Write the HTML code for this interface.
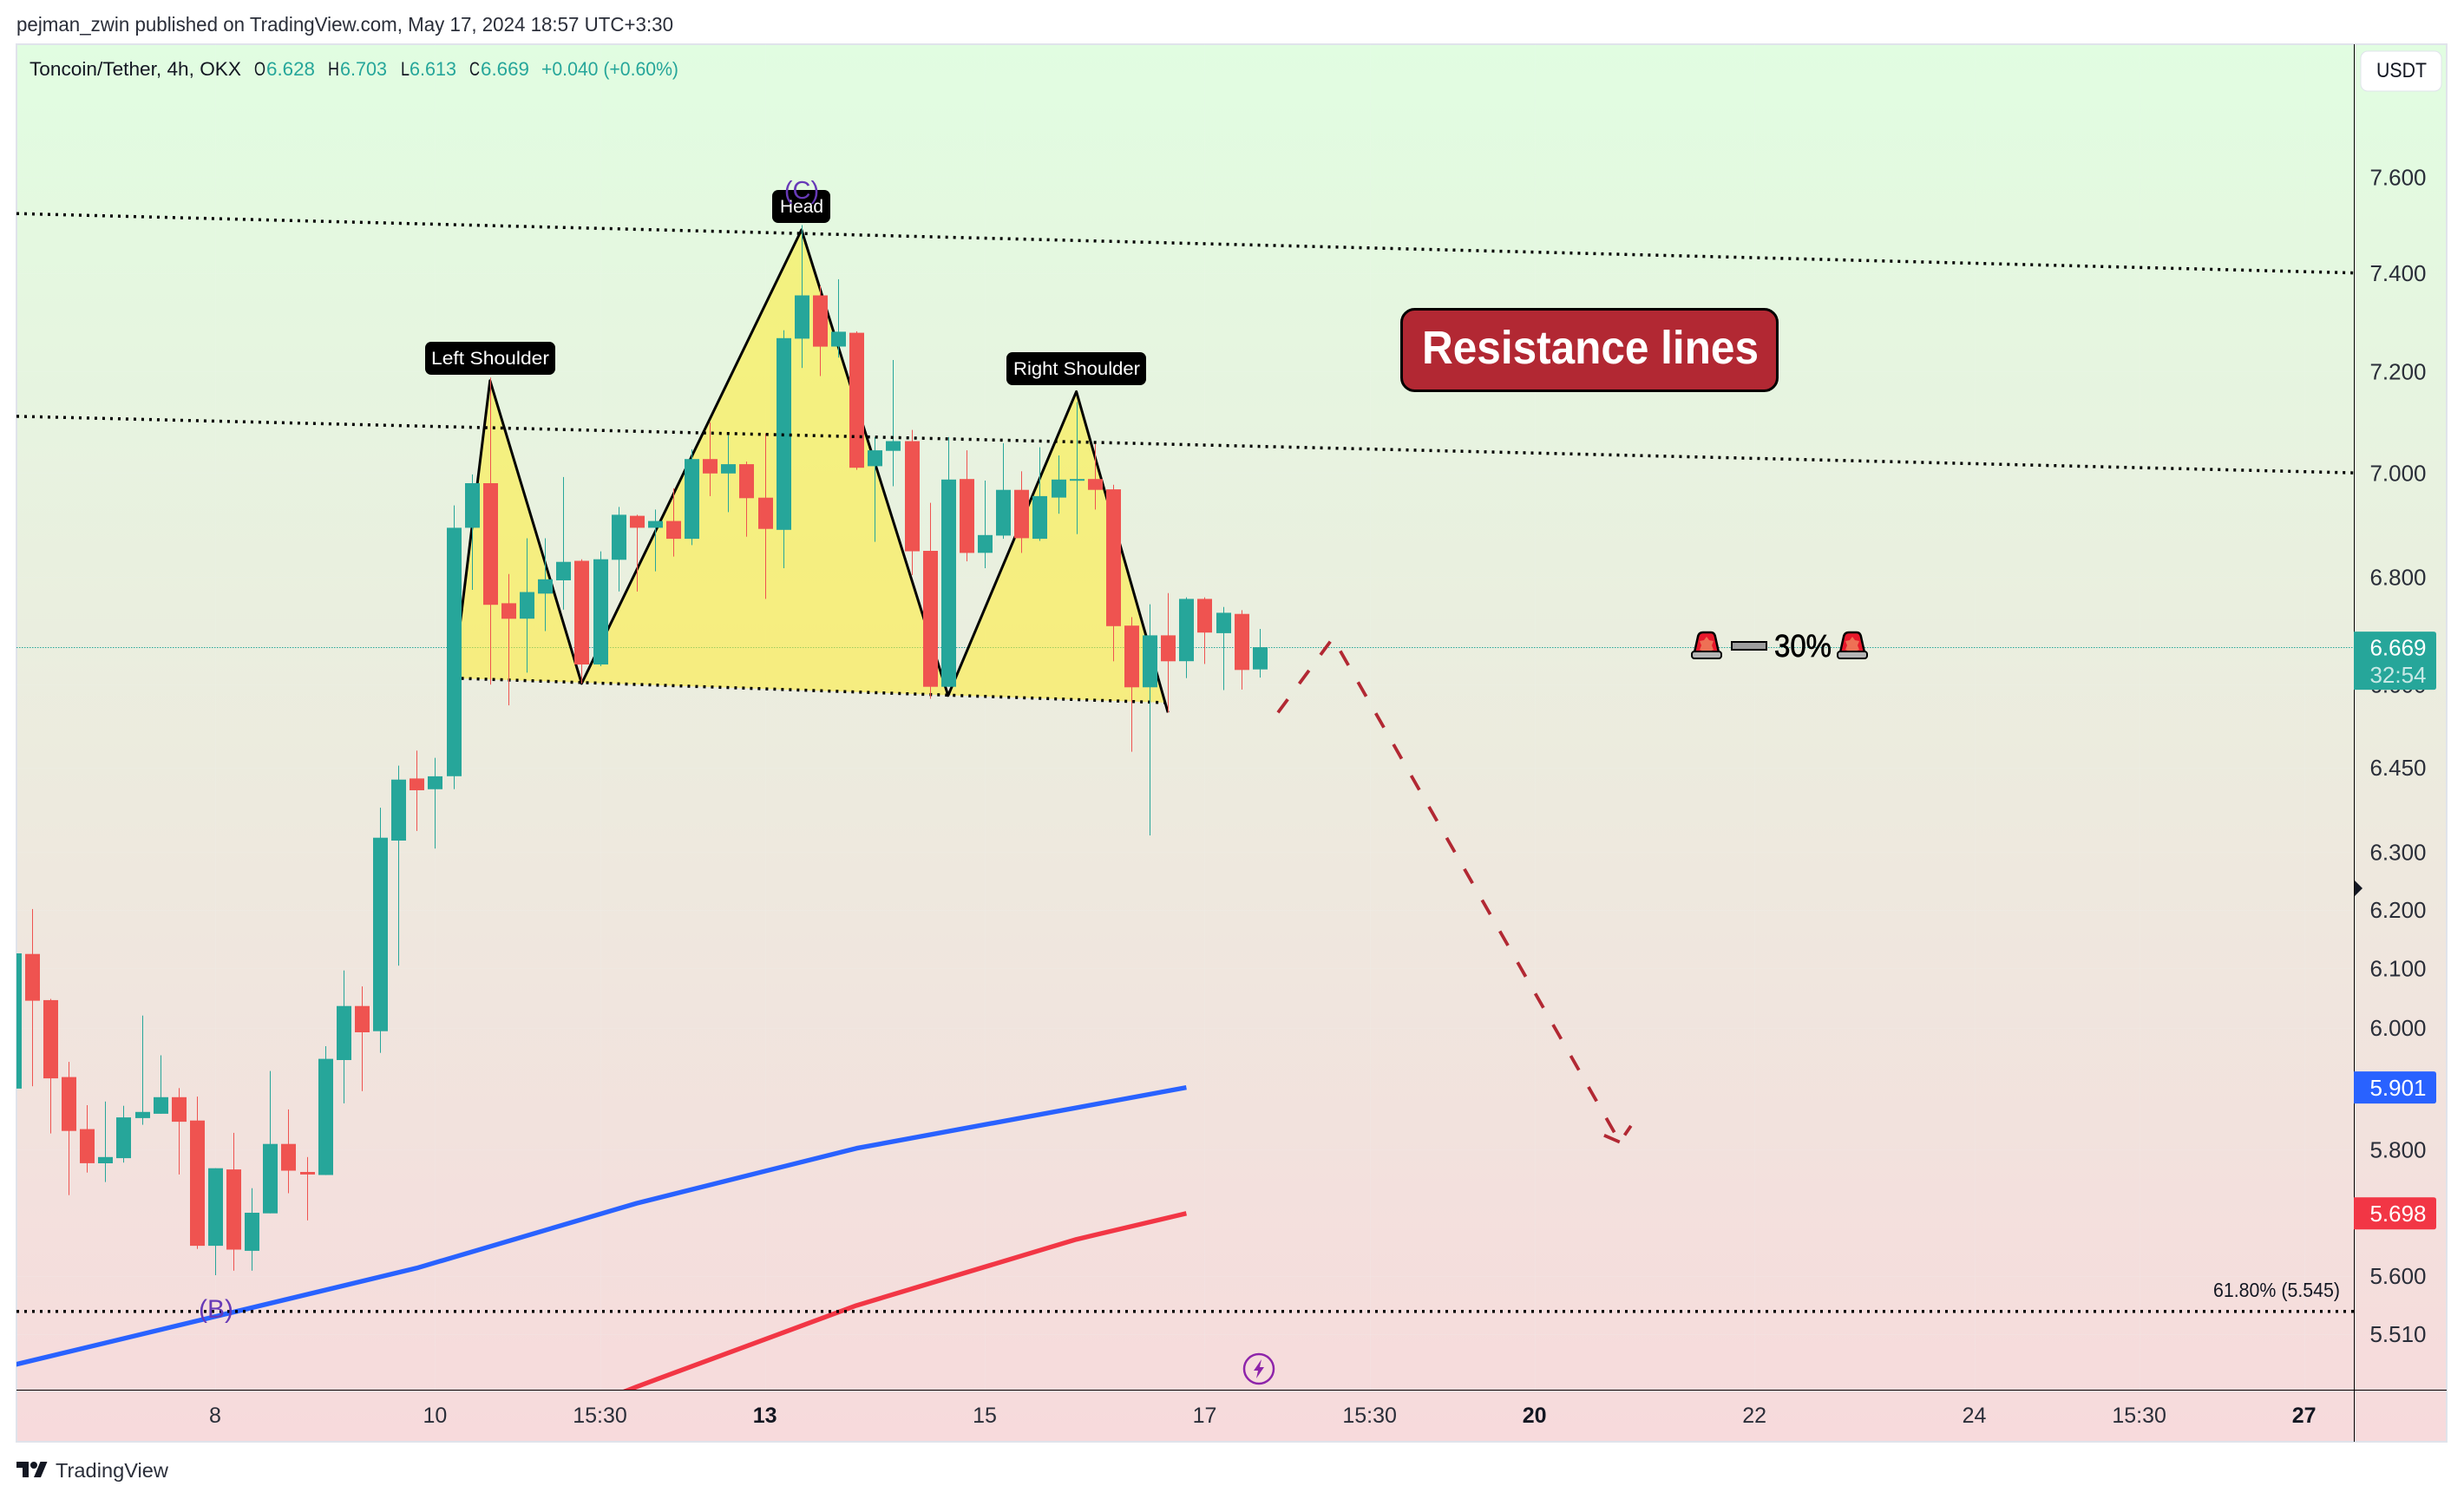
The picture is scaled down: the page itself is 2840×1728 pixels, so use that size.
<!DOCTYPE html>
<html lang="en">
<head>
<meta charset="utf-8">
<title>Toncoin/Tether 4h chart</title>
<style>
html,body{margin:0;padding:0;background:#fff;}
#wrap{position:relative;width:2840px;height:1728px;overflow:hidden;}
svg{display:block;font-family:"Liberation Sans",sans-serif;}
</style>
</head>
<body>
<div id="wrap">
<svg id="chart" width="2840" height="1728" viewBox="0 0 2840 1728" xmlns="http://www.w3.org/2000/svg">
  <defs>
    <linearGradient id="bgGrad" x1="0" y1="0" x2="0" y2="1">
      <stop offset="0" stop-color="#e1fde1"/>
      <stop offset="1" stop-color="#f7dadc"/>
    </linearGradient>
    <clipPath id="plotClip"><rect x="19" y="51" width="2694" height="1551"/></clipPath>
  </defs>
  <rect x="0" y="0" width="2840" height="1728" fill="#ffffff"/>
  <text x="19" y="36" font-size="23" fill="#2a2e39" textLength="757" lengthAdjust="spacingAndGlyphs">pejman_zwin published on TradingView.com, May 17, 2024 18:57 UTC+3:30</text>
  <rect x="19" y="51" width="2801" height="1611" fill="url(#bgGrad)" stroke="#e0e3eb" stroke-width="2"/>

  <g id="gridLayer"></g>
  <g id="plotLayer" clip-path="url(#plotClip)"></g>

  <rect x="2713" y="51" width="1" height="1611" fill="#000"/>
  <rect x="19" y="1602" width="2801" height="1" fill="#000"/>
  <g id="axisLayer"></g>

  <g font-size="22">
    <text x="34" y="87" fill="#131722" textLength="244" lengthAdjust="spacingAndGlyphs">Toncoin/Tether, 4h, OKX</text>
    <text x="293" y="87" fill="#131722" textLength="13" lengthAdjust="spacingAndGlyphs">O</text>
    <text x="307" y="87" fill="#26a69a" textLength="56" lengthAdjust="spacingAndGlyphs">6.628</text>
    <text x="378" y="87" fill="#131722" textLength="13" lengthAdjust="spacingAndGlyphs">H</text>
    <text x="392" y="87" fill="#26a69a" textLength="54" lengthAdjust="spacingAndGlyphs">6.703</text>
    <text x="462" y="87" fill="#131722" textLength="10" lengthAdjust="spacingAndGlyphs">L</text>
    <text x="472" y="87" fill="#26a69a" textLength="54" lengthAdjust="spacingAndGlyphs">6.613</text>
    <text x="541" y="87" fill="#131722" textLength="12" lengthAdjust="spacingAndGlyphs">C</text>
    <text x="554" y="87" fill="#26a69a" textLength="56" lengthAdjust="spacingAndGlyphs">6.669</text>
    <text x="624" y="87" fill="#26a69a" textLength="158" lengthAdjust="spacingAndGlyphs">+0.040 (+0.60%)</text>
  </g>

  <g>
    <rect x="2721" y="59" width="93" height="46" rx="8" fill="#ffffff" stroke="#e0e3eb" stroke-width="1"/>
    <text x="2768" y="89" font-size="24" fill="#131722" text-anchor="middle" textLength="58" lengthAdjust="spacingAndGlyphs">USDT</text>
  </g>

  <polygon points="2714,1015 2723,1024 2714,1033" fill="#131722"/>

  <g>
    <rect x="1615.5" y="356.5" width="433" height="94" rx="15" fill="#b22833" stroke="#000" stroke-width="3"/>
    <text x="1639" y="419" font-size="54" font-weight="bold" fill="#ffffff" textLength="388" lengthAdjust="spacingAndGlyphs">Resistance lines</text>
  </g>

  <g>
    <g transform="translate(1949,728)">
      <path d="M4 24 L8 6 Q9 1 14 1 L23 1 Q27 1 28 6 L32 24 Z" fill="#e8182b" stroke="#000" stroke-width="2.5"/>
      <polygon points="18,6 21,10 26,11 24,16 26,21 18,24 10,21 12,16 10,11 15,10" fill="#ee7055"/>
      <rect x="1" y="23" width="34" height="8" rx="3" fill="#b5b5b5" stroke="#000" stroke-width="2"/>
    </g>
    <rect x="1996" y="740" width="40" height="9" fill="#9e9e9e" stroke="#000" stroke-width="2"/>
    <text x="2045" y="757" font-size="36" fill="#000" stroke="#000" stroke-width="0.7" textLength="66" lengthAdjust="spacingAndGlyphs">30%</text>
    <g transform="translate(2117,728)">
      <path d="M4 24 L8 6 Q9 1 14 1 L23 1 Q27 1 28 6 L32 24 Z" fill="#e8182b" stroke="#000" stroke-width="2.5"/>
      <polygon points="18,6 21,10 26,11 24,16 26,21 18,24 10,21 12,16 10,11 15,10" fill="#ee7055"/>
      <rect x="1" y="23" width="34" height="8" rx="3" fill="#b5b5b5" stroke="#000" stroke-width="2"/>
    </g>
  </g>

  <g>
    <rect x="490" y="394" width="150" height="38" rx="7" fill="#000"/>
    <text x="497" y="420" font-size="21" fill="#fff" textLength="136" lengthAdjust="spacingAndGlyphs">Left Shoulder</text>
  </g>
  <g>
    <rect x="890" y="219" width="67" height="38" rx="7" fill="#000"/>
    <text x="899" y="245" font-size="21" fill="#fff" textLength="50" lengthAdjust="spacingAndGlyphs">Head</text>
  </g>
  <g>
    <rect x="1160" y="406" width="161" height="38" rx="7" fill="#000"/>
    <text x="1168" y="432" font-size="21" fill="#fff" textLength="146" lengthAdjust="spacingAndGlyphs">Right Shoulder</text>
  </g>
  <text x="924" y="229" font-size="29" fill="#673ab7" text-anchor="middle">(C)</text>
  <text x="249" y="1519" font-size="30" fill="#673ab7" text-anchor="middle">(B)</text>
  <text x="2697" y="1495" font-size="23" fill="#131722" text-anchor="end" textLength="146" lengthAdjust="spacingAndGlyphs">61.80% (5.545)</text>

  <g>
    <circle cx="1451" cy="1578" r="17" fill="none" stroke="#8e24aa" stroke-width="2.5"/>
    <polygon points="1454,1567 1445,1580 1450,1580 1448,1589 1457,1576 1452,1576" fill="#8e24aa"/>
  </g>

  <g transform="translate(19,1681)" fill="#131722">
    <path d="M14 22H7V11H0V4h14v18zM28 22h-8l7.5-18h8L28 22z"/>
    <circle cx="20" cy="8" r="4"/>
  </g>
  <text x="64" y="1703" font-size="23" fill="#2a2e39" textLength="130" lengthAdjust="spacingAndGlyphs">TradingView</text>
</svg>
</div>
<script>
// ---- OHLC series (USDT) ----
const opens = [
5.899,6.124,6.046,5.918,5.833,5.778,5.786,5.851,5.858,5.885,
5.847,5.647,5.768,5.639,5.698,5.809,5.764,5.759,5.946,6.036,
5.994,6.320,6.430,6.411,6.434,6.894,6.980,6.751,6.722,6.769,
6.794,6.831,6.637,6.833,6.917,6.894,6.907,6.873,7.027,6.999,
7.017,6.952,6.890,7.266,7.354,7.250,7.278,7.013,7.043,7.062,
6.850,6.596,6.988,6.846,6.879,6.967,6.873,6.952,6.985,6.988,
6.968,6.709,6.595,6.691,6.643,6.759,6.695,6.731,6.628];
const highs = [
6.125,6.201,6.048,5.943,5.872,5.878,5.871,6.020,5.954,5.900,
5.886,5.770,5.827,5.738,5.928,5.865,5.788,5.969,6.096,6.069,
6.378,6.453,6.480,6.467,6.937,6.997,7.188,6.806,6.874,6.874,
6.992,6.834,6.849,6.934,6.919,6.929,6.970,7.046,7.099,7.077,
7.022,7.077,7.283,7.499,7.373,7.387,7.281,7.070,7.223,7.084,
6.942,7.070,7.044,6.985,7.058,7.003,7.050,7.034,7.139,7.057,
6.977,6.725,6.749,6.770,6.762,6.762,6.744,6.738,6.703];
const lows = [
5.899,5.903,5.826,5.727,5.763,5.748,5.779,5.840,5.858,5.760,
5.642,5.601,5.608,5.608,5.698,5.730,5.687,5.759,5.875,5.895,
5.958,6.104,6.337,6.306,6.411,6.776,6.600,6.562,6.622,6.699,
6.739,6.602,6.634,6.773,6.773,6.811,6.839,6.861,6.955,6.924,
6.877,6.759,6.817,7.207,7.191,7.228,7.006,6.867,6.974,6.804,
6.574,6.596,6.830,6.817,6.873,6.846,6.869,6.921,6.882,6.929,
6.643,6.478,6.329,6.549,6.612,6.638,6.590,6.591,6.613];
const closes = [
6.125,6.045,5.916,5.830,5.778,5.788,5.852,5.861,5.885,5.845,
5.647,5.770,5.641,5.699,5.809,5.766,5.760,5.948,6.036,5.992,
6.325,6.428,6.409,6.434,6.894,6.980,6.748,6.722,6.772,6.796,
6.829,6.637,6.834,6.919,6.894,6.907,6.873,7.027,6.999,7.017,
6.951,6.892,7.267,7.354,7.250,7.280,7.010,7.044,7.062,6.849,
6.596,6.987,6.846,6.880,6.967,6.874,6.955,6.987,6.988,6.967,
6.708,6.595,6.691,6.643,6.759,6.696,6.733,6.627,6.669];

// ---- Moving averages (bar index / price) ----
const blueMaBars = [0,22,34,46,64];
const blueMaValues = [5.463,5.612,5.714,5.802,5.901];
const redMaBars = [22,34,46,58,64];
const redMaValues = [5.299,5.430,5.554,5.657,5.698];

// ---- Axis ticks ----
const priceTicks = [7.6,7.4,7.2,7.0,6.8,6.6,6.45,6.3,6.2,6.1,6.0,5.8,5.6,5.51];
const timeTickBars = [11,23,32,41,53,65,74,83,95,107,116,125];
const timeTickLabels = ['8','10','15:30','13','15','17','15:30','20','22','24','15:30','27'];
const boldTimeLabels = ['13','20','27'];

// ---- Drawings (bar index / price) ----
const resistanceUpperBars = [0.157,127.71];
const resistanceUpperPrices = [7.523,7.4];
const resistanceLowerBars = [0.157,127.71];
const resistanceLowerPrices = [7.111,7.0];
const fibBars = [0.157,127.71];
const fibPrices = [5.545,5.545];
const patternBars = [24,26,31,43,51,58,63];
const patternPrices = [6.612,7.182,6.602,7.489,6.580,7.160,6.549];
const necklineBars = [24,62.85];
const necklinePrices = [6.612,6.567];
const projectionBars = [69,72,87.66];
const projectionPrices = [6.549,6.686,5.812];
const arrowBars = [86.8,87.66,88.3];
const arrowPrices = [5.823,5.812,5.840];

// ---- Axis functions ----
function yOf(price){ return 204 + 4148 * Math.log(7.6 / price); }
function xOf(bar){ return 248 + (bar - 11) * 21.12; }

const NS = 'http://www.w3.org/2000/svg';
const plot = document.getElementById('plotLayer');
const axis = document.getElementById('axisLayer');
const grid = document.getElementById('gridLayer');

function mk(tag, attrs, parent){
  const el = document.createElementNS(NS, tag);
  for (const k in attrs) el.setAttribute(k, attrs[k]);
  parent.appendChild(el);
  return el;
}
function pts(bars, prices){
  return bars.map(function(b, i){ return xOf(b).toFixed(1) + ',' + yOf(prices[i]).toFixed(1); }).join(' ');
}
const GREEN = '#26a69a', RED = '#ef5350';

// grid
priceTicks.forEach(function(p){
  const ln = mk('rect', {x:19, y:Math.round(yOf(p)), width:2694, height:1, fill:'rgba(240,243,250,0.12)'}, grid);
  
  
});
timeTickBars.forEach(function(b){
  const ln = mk('rect', {x:Math.round(xOf(b)), y:51, width:1, height:1551, fill:'rgba(240,243,250,0.12)'}, grid);
  
  
});

// current price line
const lastClose = closes[closes.length - 1];
const priceLine = mk('line', {x1:19, x2:2713, y1:Math.round(yOf(lastClose)) + 0.5, y2:Math.round(yOf(lastClose)) + 0.5, stroke:GREEN, 'stroke-width':1, 'stroke-dasharray':'1.5 1.5'}, plot);



// head and shoulders pattern
const fillBars = patternBars.slice(0, 6).concat(necklineBars[1]);
const fillPrices = patternPrices.slice(0, 6).concat(necklinePrices[1]);
const patFill = mk('polygon', {points:pts(fillBars, fillPrices), fill:'rgba(255,236,50,0.55)', stroke:'none'}, plot);


const patLine = mk('polyline', {points:pts(patternBars, patternPrices), fill:'none', stroke:'#000', 'stroke-width':3, 'stroke-linejoin':'round'}, plot);


const neck = mk('polyline', {points:pts(necklineBars, necklinePrices), fill:'none', stroke:'#000', 'stroke-width':3.5, 'stroke-dasharray':'3 6'}, plot);



// candles
opens.forEach(function(o, i){
  const c = closes[i], up = c >= o, col = up ? GREEN : RED;
  const cx = xOf(i);
  const top = yOf(Math.max(o, c)), bot = yOf(Math.min(o, c));
  const wick = mk('rect', {x:Math.round(cx), y:yOf(highs[i]).toFixed(1), width:1, height:Math.max(1, yOf(lows[i]) - yOf(highs[i])).toFixed(1), fill:col}, plot);
  
  
  const body = mk('rect', {x:Math.round(cx - 8), y:top.toFixed(1), width:17, height:Math.max(2, bot - top).toFixed(1), fill:col}, plot);
  
  
});

// moving averages
const blueLine = mk('polyline', {points:pts(blueMaBars, blueMaValues), fill:'none', stroke:'#2962ff', 'stroke-width':5.4, 'stroke-linejoin':'round'}, plot);


const redLine = mk('polyline', {points:pts(redMaBars, redMaValues), fill:'none', stroke:'#f23645', 'stroke-width':5.4, 'stroke-linejoin':'round'}, plot);



// resistance and fib lines
const resUp = mk('polyline', {points:pts(resistanceUpperBars, resistanceUpperPrices), fill:'none', stroke:'#000', 'stroke-width':3.5, 'stroke-dasharray':'3 6'}, plot);


const resLow = mk('polyline', {points:pts(resistanceLowerBars, resistanceLowerPrices), fill:'none', stroke:'#000', 'stroke-width':3.5, 'stroke-dasharray':'3 6'}, plot);


const fibLine = mk('polyline', {points:pts(fibBars, fibPrices), fill:'none', stroke:'#000', 'stroke-width':3.5, 'stroke-dasharray':'3 6'}, plot);



// projected path
const proj = mk('polyline', {points:pts(projectionBars, projectionPrices), fill:'none', stroke:'#b22833', 'stroke-width':3.8, 'stroke-dasharray':'19 22.3'}, plot);


const arrow = mk('polyline', {points:pts(arrowBars, arrowPrices), fill:'none', stroke:'#b22833', 'stroke-width':3.8, 'stroke-dasharray':'19.5 10 13'}, plot);



// price axis labels
priceTicks.forEach(function(p){
  const t = mk('text', {x:2764, y:(yOf(p) + 9.3).toFixed(1), 'font-size':26, fill:'#2a2e39', 'text-anchor':'middle'}, axis);
  t.textContent = p.toFixed(3);
  
  
});

// time axis labels
timeTickBars.forEach(function(b, i){
  const lab = timeTickLabels[i];
  const isBold = boldTimeLabels.indexOf(lab) >= 0;
  const t = mk('text', {x:xOf(b).toFixed(1), y:1640, 'font-size':25, fill:isBold ? '#131722' : '#2a2e39', 'font-weight':isBold ? 'bold' : 'normal', 'text-anchor':'middle'}, axis);
  t.textContent = lab;
  
  
});

// axis value tags
function priceTag(value, color){
  const y = yOf(value);
  const g = mk('g', {}, axis);
  mk('path', {d:'M2713 ' + (y - 18.5).toFixed(1) + ' H2805 Q2808 ' + (y - 18.5).toFixed(1) + ' 2808 ' + (y - 15.5).toFixed(1) + ' V' + (y + 15.5).toFixed(1) + ' Q2808 ' + (y + 18.5).toFixed(1) + ' 2805 ' + (y + 18.5).toFixed(1) + ' H2713 Z', fill:color}, g);
  const t = mk('text', {x:2764, y:(y + 9.3).toFixed(1), 'font-size':26, fill:'#fff', 'text-anchor':'middle'}, g);
  t.textContent = value.toFixed(3);
  return g;
}
const blueTag = priceTag(blueMaValues[blueMaValues.length - 1], '#2962ff');


const redTag = priceTag(redMaValues[redMaValues.length - 1], '#f23645');



const curY = yOf(lastClose);
const curTag = mk('g', {}, axis);


mk('path', {d:'M2713 ' + (curY - 18).toFixed(1) + ' H2805 Q2808 ' + (curY - 18).toFixed(1) + ' 2808 ' + (curY - 15).toFixed(1) + ' V' + (curY + 46).toFixed(1) + ' Q2808 ' + (curY + 49).toFixed(1) + ' 2805 ' + (curY + 49).toFixed(1) + ' H2713 Z', fill:GREEN}, curTag);
const curPrice = mk('text', {x:2764, y:(curY + 9.5).toFixed(1), 'font-size':26, fill:'#fff', 'text-anchor':'middle'}, curTag);
curPrice.textContent = lastClose.toFixed(3);
const curTimer = mk('text', {x:2764, y:(curY + 41).toFixed(1), 'font-size':26, fill:'#fff', 'fill-opacity':0.75, 'text-anchor':'middle'}, curTag);
curTimer.textContent = '32:54';
</script>
</body>
</html>
